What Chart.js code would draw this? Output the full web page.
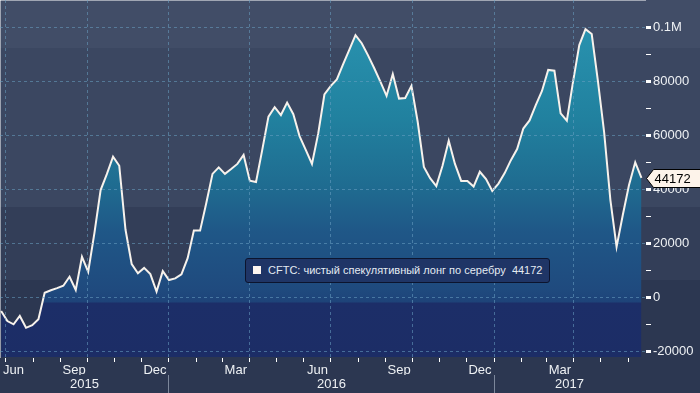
<!DOCTYPE html>
<html>
<head>
<meta charset="utf-8">
<script src="https://cdn.jsdelivr.net/npm/chart.js@4.4.1/dist/chart.umd.min.js"></script>
<style>
  html, body { margin: 0; padding: 0; background: #2c3751; }
  #wrap { position: relative; width: 700px; height: 393px; overflow: hidden; }
  #legendBox {
    position: absolute; left: 245px; top: 258px; width: 305px; height: 25px;
    box-sizing: border-box; background: #1f3566; border: 1px solid #0c142e; border-radius: 3px;
    font: 11px "Liberation Sans", Arial, sans-serif; color: #e4ebf2; line-height: 23px; white-space: nowrap;
  }
  #legendBox .mark { display: inline-block; width: 8px; height: 8px; background: #fff6f0; margin: 0 7px 0 7px; }
</style>
</head>
<body>
<div id="wrap">
  <canvas id="chart" width="700" height="393"></canvas>
  <div id="legendBox"><span class="mark"></span>CFTC: чистый спекулятивный лонг по серебру&nbsp;&nbsp;44172</div>
</div>
<script>
// weekly CFTC net speculative long in silver, first report 26 Jun 2015
const firstWeek = Date.UTC(2015, 5, 26);
const netLong = [
  -5200, -8900, -10100, -7000, -11400, -10400, -8200, 1600, 2500, 3300,
  4200, 7500, 2600, 14900, 9300, 23700, 39600, 45500, 52000, 48600,
  25000, 12200, 8800, 10800, 8500, 2000, 9600, 6300, 6900, 8400,
  14400, 24600, 24600, 34800, 45600, 48000, 45600, 47400, 49300, 52600,
  43100, 42600, 54500, 66800, 70300, 67400, 72000, 67700, 59600, 54500,
  49300, 60500, 75000, 78100, 80600, 86200, 91500, 97000, 94000, 89600,
  84800, 79800, 74500, 82600, 73500, 73700, 78200, 65000, 48200, 44000,
  41100, 48600, 57900, 49300, 43000, 43000, 40900, 46400, 43700, 39300,
  42000, 45900, 50700, 54800, 62400, 65400, 71100, 76300, 84100, 83800,
  68000, 65300, 79800, 93300, 99200, 97400, 80000, 61000, 36000, 18600,
  30400, 41500, 49900, 44172
];
const seriesName = 'CFTC: чистый спекулятивный лонг по серебру';
const monthLabels = { 2: 'Mar', 5: 'Jun', 8: 'Sep', 11: 'Dec' };
const firstMonthLabel = 'Jun';
const yearLabels = ['2015', '2016', '2017'];
const yTicks = [-20000, -10000, 0, 10000, 20000, 30000, 40000, 50000, 60000, 70000, 80000, 90000, 100000];

const DAY = 86400000;
const ORIGIN = Date.UTC(2016, 0, 1);
const X_MIN = -190.3, X_MAX = 536;
const Y_MIN = -22200, Y_MAX = 110000;

const gridColor = 'rgba(105, 160, 195, 0.55)';
const textColor = '#eef1f4';
const font = { family: '"Liberation Sans", Arial, sans-serif', size: 13 };

function dayOf(t) { return (t - ORIGIN) / DAY; }
function monthOf(d) { return new Date(ORIGIN + Math.round(d) * DAY).getUTCMonth(); }
function noPad(s) { s.paddingLeft = 0; s.paddingRight = 0; s.paddingTop = 0; s.paddingBottom = 0; }

const points = netLong.map((v, i) => ({ x: dayOf(firstWeek + i * 7 * DAY), y: v }));

const monthTicks = [];
for (let yr = 2015; yr <= 2017; yr++) {
  for (let m = 0; m < 12; m++) {
    const d = dayOf(Date.UTC(yr, m, 1));
    if (d > X_MIN && d < X_MAX) monthTicks.push(d);
  }
}
const yearStarts = [dayOf(Date.UTC(2016, 0, 1)), dayOf(Date.UTC(2017, 0, 1))];
const yearCenters = [(X_MIN + yearStarts[0]) / 2, (yearStarts[0] + yearStarts[1]) / 2, (yearStarts[1] + X_MAX) / 2];

const bgBands = [[0, 48, '#414d67'], [48, 207, '#3b4761'], [207, 280, '#333e58'], [280, 393, '#2c3751']];

const backgroundPlugin = {
  id: 'bands',
  beforeDraw(chart) {
    const c = chart.ctx;
    bgBands.forEach(([y0, y1, col]) => { c.fillStyle = col; c.fillRect(0, y0, chart.width, y1 - y0); });
  }
};

const calloutPlugin = {
  id: 'callout',
  afterDraw(chart) {
    const c = chart.ctx;
    const last = netLong[netLong.length - 1];
    const y = Math.round(chart.scales.y.getPixelForValue(last)) + 0.5;
    const x = chart.chartArea.right + 1.5;
    c.save();
    c.beginPath();
    c.moveTo(x, y);
    c.lineTo(x + 7, y - 9);
    c.lineTo(chart.width + 2, y - 9);
    c.lineTo(chart.width + 2, y + 9);
    c.lineTo(x + 7, y + 9);
    c.closePath();
    c.fillStyle = '#fdf3ea';
    c.fill();
    c.strokeStyle = '#000';
    c.lineWidth = 1;
    c.stroke();
    c.fillStyle = '#000';
    c.font = '13px "Liberation Sans", Arial, sans-serif';
    c.textBaseline = 'middle';
    c.fillText(String(last), x + 8, y + 1);
    c.restore();
  }
};

function fillGradient(ctx) {
  const area = ctx.chart.chartArea;
  if (!area) return '#1f5686';
  const g = ctx.chart.ctx.createLinearGradient(0, area.top, 0, area.bottom);
  const h = area.bottom - area.top;
  g.addColorStop(0, '#2b97b3');
  g.addColorStop(118 / h, '#21819f');
  g.addColorStop(188 / h, '#1f6b90');
  g.addColorStop(232 / h, '#1f5787');
  g.addColorStop(290 / h, '#1f4a7e');
  g.addColorStop(302 / h, '#1e4379');
  g.addColorStop(303 / h, '#1c2e68');
  g.addColorStop(1, '#1c2d66');
  return g;
}

new Chart(document.getElementById('chart'), {
  type: 'line',
  data: {
    datasets: [{
      label: seriesName,
      data: points,
      borderColor: '#f7f2ec',
      borderWidth: 2,
      backgroundColor: fillGradient,
      fill: 'start',
      pointRadius: 0,
      tension: 0
    }]
  },
  plugins: [backgroundPlugin, calloutPlugin],
  options: {
    responsive: false,
    animation: false,
    layout: { padding: 0 },
    plugins: { legend: { display: false }, tooltip: { enabled: false } },
    scales: {
      x: {
        type: 'linear',
        position: 'bottom',
        min: X_MIN,
        max: X_MAX,
        afterBuildTicks: (s) => { s.ticks = [{ value: X_MIN }].concat(monthTicks.map(v => ({ value: v }))); },
        afterFit: (s) => { s.height = 18; noPad(s); },
        ticks: {
          autoSkip: false,
          maxRotation: 0,
          labelOffset: 13.5,
          padding: 1,
          color: textColor,
          font: font,
          // only label months that are fully inside the plotted range
          callback: (v, i) => i === 0 ? firstMonthLabel : (v + 30 < X_MAX ? (monthLabels[monthOf(v)] || '') : '')
        },
        grid: {
          z: 1,
          color: (ctx) => ctx.tick && ctx.index > 0 && monthOf(ctx.tick.value) % 3 === 0 ? gridColor : 'transparent',
          tickColor: (ctx) => ctx.index > 0 ? '#ffffff' : 'transparent',
          tickLength: 5,
          tickBorderDash: [],
          lineWidth: 1
        },
        border: { color: '#ffffff', width: 1, dash: [3, 3] }
      },
      x2: {
        type: 'linear',
        position: 'bottom',
        min: X_MIN,
        max: X_MAX,
        afterBuildTicks: (s) => { s.ticks = yearStarts.concat(yearCenters).map(v => ({ value: v })); },
        afterFit: (s) => { s.height = 18; noPad(s); },
        ticks: {
          autoSkip: false,
          maxRotation: 0,
          padding: -16,
          color: textColor,
          font: font,
          callback: (v, i) => i < yearStarts.length ? '' : yearLabels[i - yearStarts.length]
        },
        grid: {
          drawOnChartArea: false,
          tickLength: 18,
          tickColor: (ctx) => ctx.index < yearStarts.length ? '#7c879b' : 'transparent',
          tickBorderDash: []
        },
        border: { display: false }
      },
      y: {
        type: 'linear',
        position: 'right',
        min: Y_MIN,
        max: Y_MAX,
        afterBuildTicks: (s) => { s.ticks = yTicks.map(v => ({ value: v })); },
        afterFit: (s) => { s.width = 55; noPad(s); },
        ticks: {
          padding: 2,
          color: textColor,
          font: font,
          callback: (v) => v === 100000 ? '0.1M' : (v % 20000 === 0 ? String(v) : '')
        },
        grid: {
          z: 1,
          color: (ctx) => ctx.tick && ctx.tick.value % 20000 === 0 ? gridColor : 'transparent',
          tickColor: '#ffffff',
          tickWidth: (ctx) => ctx.tick && ctx.tick.value % 20000 === 0 ? 3 : 1,
          tickLength: 6,
          tickBorderDash: [],
          lineWidth: 1
        },
        border: { color: '#ffffff', width: 1, dash: [3, 3] }
      }
    }
  }
});
</script>
</body>
</html>
